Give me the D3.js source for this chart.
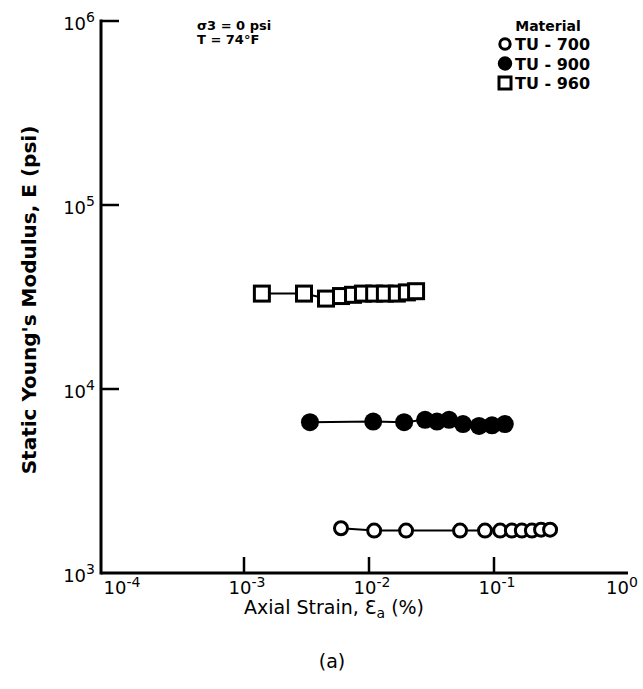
<!DOCTYPE html>
<html>
<head>
<meta charset="utf-8">
<script src="https://cdn.jsdelivr.net/npm/d3@7/dist/d3.min.js"></script>
<style>
  html, body { margin: 0; padding: 0; background: #fff; }
  svg { display: block; }
  text { font-family: "DejaVu Sans", sans-serif; fill: #000; }
</style>
</head>
<body>
<svg id="chart" width="643" height="689"></svg>
<script>
// ---- data ----
const materials = ["TU - 700", "TU - 900", "TU - 960"];
const markerTypes = ["open-circle", "filled-circle", "open-square"];

const strainTU700 = [5.97e-3, 1.10e-2, 1.98e-2, 5.35e-2, 8.47e-2, 0.112, 0.139, 0.167, 0.201, 0.238, 0.281];
const modulusTU700 = [1750, 1700, 1700, 1700, 1700, 1700, 1700, 1700, 1700, 1720, 1720];

const strainTU900 = [3.37e-3, 1.08e-2, 1.91e-2, 2.81e-2, 3.50e-2, 4.37e-2, 5.65e-2, 7.59e-2, 9.64e-2, 0.122];
const modulusTU900 = [6600, 6650, 6600, 6800, 6650, 6800, 6450, 6300, 6350, 6450];

const strainTU960 = [1.39e-3, 3.02e-3, 4.53e-3, 5.97e-3, 7.45e-3, 8.95e-3, 1.10e-2, 1.34e-2, 1.67e-2, 2.01e-2, 2.38e-2];
const modulusTU960 = [33000, 33000, 31000, 32000, 32500, 33000, 33000, 33000, 33000, 33500, 34000];

const xTickValues = [1e-4, 1e-3, 1e-2, 1e-1, 1];
const xTickExponents = ["-4", "-3", "-2", "-1", "0"];
const yTickValues = [1e3, 1e4, 1e5, 1e6];
const yTickExponents = ["3", "4", "5", "6"];

const xTitle = "Axial Strain, ";
const yTitle = "Static Young's Modulus, E (psi)";
const conditionLines = ["σ3 = 0 psi", "T = 74°F"];
const legendTitle = "Material";
const panelLabel = "(a)";

// ---- layout ----
const svg = d3.select("#chart");
const pLeft = 101, pRight = 628, pTop = 21, pBottom = 573;

const x = d3.scaleLog().domain([Math.pow(10, -4.144), Math.pow(10, 0.072)]).range([pLeft, pRight]);
const y = d3.scaleLog().domain([1e3, 1e6]).range([pBottom, pTop]);

// axes lines
const axisG = svg.append("g");
axisG.append("line").attr("x1", pLeft).attr("x2", pRight).attr("y1", pBottom).attr("y2", pBottom)
  .attr("stroke", "#000").attr("stroke-width", 3);
axisG.append("line").attr("x1", pLeft).attr("x2", pLeft).attr("y1", pBottom + 1.5).attr("y2", pTop - 1.5)
  .attr("stroke", "#000").attr("stroke-width", 3);

// x ticks (inward), only interior ones drawn as marks
xTickValues.forEach((v, i) => {
  if (i > 0 && i < xTickValues.length - 1) {
    axisG.append("line").attr("x1", x(v)).attr("x2", x(v)).attr("y1", pBottom).attr("y2", pBottom - 16)
      .attr("stroke", "#000").attr("stroke-width", 2.5);
  }
  const t = axisG.append("text").attr("x", x(v) + 3).attr("y", pBottom + 21)
    .attr("text-anchor", "middle").attr("font-size", 18);
  t.append("tspan").text("10");
  t.append("tspan").attr("dy", -7).attr("font-size", 14).text(xTickExponents[i]);
});

// y ticks (inward)
yTickValues.forEach((v, i) => {
  if (i > 0) {
    axisG.append("line").attr("x1", pLeft).attr("x2", pLeft + 18).attr("y1", y(v)).attr("y2", y(v))
      .attr("stroke", "#000").attr("stroke-width", 2.5);
  }
  const t = axisG.append("text").attr("x", pLeft - 6).attr("y", y(v) + 9)
    .attr("text-anchor", "end").attr("font-size", 18);
  t.append("tspan").text("10");
  t.append("tspan").attr("dy", -8).attr("font-size", 14).text(yTickExponents[i]);
});

// axis titles
const xt = svg.append("text").attr("x", 334).attr("y", 614).attr("text-anchor", "middle").attr("font-size", 19);
xt.append("tspan").text(xTitle);
xt.append("tspan").text("Ɛ");
xt.append("tspan").attr("dy", 4).attr("font-size", 14).text("a");
xt.append("tspan").attr("dy", -4).text(" (%)");

svg.append("text").attr("transform", "translate(36,300) rotate(-90)")
  .attr("text-anchor", "middle").attr("font-size", 20).attr("font-weight", "bold").text(yTitle);

svg.append("text").attr("x", 332).attr("y", 668).attr("text-anchor", "middle").attr("font-size", 19).text(panelLabel);

// condition text
conditionLines.forEach((s, i) => {
  svg.append("text").attr("x", 197).attr("y", 30 + i * 14).attr("font-size", 13).attr("font-weight", "bold").text(s);
});

// ---- series ----
const series = [
  { name: materials[0], type: markerTypes[0], xs: strainTU700, ys: modulusTU700 },
  { name: materials[1], type: markerTypes[1], xs: strainTU900, ys: modulusTU900 },
  { name: materials[2], type: markerTypes[2], xs: strainTU960, ys: modulusTU960 }
];

const line = d3.line().x(d => x(d[0])).y(d => y(d[1]));

function drawMarker(g, type, cx, cy, scale) {
  if (type === "open-circle") {
    g.append("circle").attr("cx", cx).attr("cy", cy).attr("r", 6.5 * scale)
      .attr("fill", "#fff").attr("stroke", "#000").attr("stroke-width", 3 * Math.min(1, scale + 0.2));
  } else if (type === "filled-circle") {
    g.append("circle").attr("cx", cx).attr("cy", cy).attr("r", 9 * scale).attr("fill", "#000");
  } else {
    const s = 15 * scale;
    g.append("rect").attr("x", cx - s / 2).attr("y", cy - s / 2).attr("width", s).attr("height", s)
      .attr("fill", "#fff").attr("stroke", "#000").attr("stroke-width", 3 * Math.min(1, scale + 0.2));
  }
}

const plotG = svg.append("g");
series.forEach(s => {
  const pts = s.xs.map((v, i) => [v, s.ys[i]]);
  plotG.append("path").attr("d", line(pts)).attr("fill", "none").attr("stroke", "#000").attr("stroke-width", 2);
  pts.forEach(p => drawMarker(plotG, s.type, x(p[0]), y(p[1]), 1));
});

// ---- legend ----
const lg = svg.append("g");
lg.append("text").attr("x", 548).attr("y", 31).attr("text-anchor", "middle").attr("font-size", 14)
  .attr("font-weight", "bold").text(legendTitle);
series.forEach((s, i) => {
  const cy = 44 + i * 19.5;
  drawMarker(lg, s.type, 505, cy, 0.8);
  lg.append("text").attr("x", 515).attr("y", cy + 6).attr("font-size", 16).attr("font-weight", "bold").text(s.name);
});
</script>
</body>
</html>
